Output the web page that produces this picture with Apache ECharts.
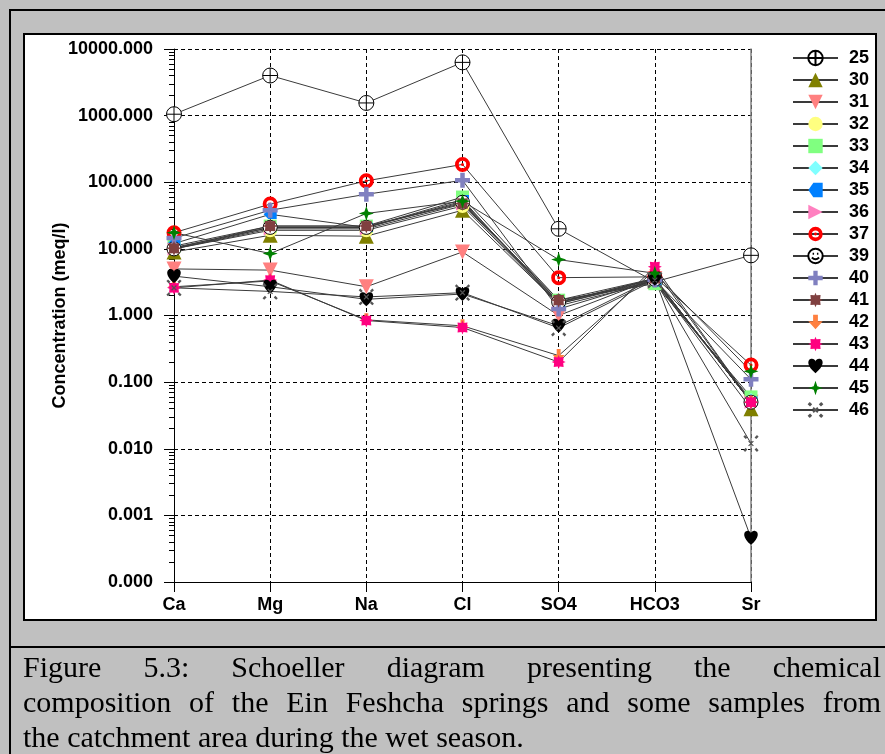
<!DOCTYPE html>
<html>
<head>
<meta charset="utf-8">
<script src="https://cdn.jsdelivr.net/npm/echarts@6/dist/echarts.min.js"></script>
<style>
  html, body { margin: 0; padding: 0; background: #c0c0c0; overflow: hidden; }
  #frame { position: absolute; left: 9px; top: 9px; width: 900px; height: 800px; border: 2px solid #000; }
  #divider { position: absolute; left: 9px; top: 646px; width: 900px; height: 2px; background: #000; }
  #panel { position: absolute; left: 23px; top: 33px; width: 850px; height: 584px; border: 2px solid #000; background: #fff; }
  #chart { position: absolute; left: 0; top: 0; width: 885px; height: 754px; }
  #caption { position: absolute; left: 23px; top: 649px; width: 858px; font-family: "Liberation Serif", "Times New Roman", serif; font-size: 30px; line-height: 35px; color: #000; }
  #caption div { white-space: nowrap; }
  #caption .j { text-align: justify; text-align-last: justify; white-space: normal; }
</style>
</head>
<body>
<div id="frame"></div>
<div id="divider"></div>
<div id="panel"></div>
<div id="chart"></div>
<div id="caption">
  <div class="j">Figure 5.3: Schoeller diagram presenting the chemical</div>
  <div class="j">composition of the Ein Feshcha springs and some samples from</div>
  <div>the catchment area during the wet season.</div>
</div>
<script>
// ions on the x axis
const ions = ["Ca", "Mg", "Na", "Cl", "SO4", "HCO3", "Sr"];

// concentrations (meq/l) per sample, same order as ions
const s25 = [1050, 4000, 1550, 6300, 20, 3.2, 8];
const s30 = [9.0, 16, 15.5, 38, 1.5, 3.3, 0.04];
const s31 = [5.0, 4.8, 2.7, 9.0, 1.0, 3.6, 0.05];
const s32 = [10, 19, 19, 44, 1.5, 3.5, 0.05];
const s33 = [11, 22, 22, 60, 1.7, 3.0, 0.06];
const s34 = [10.5, 21, 21, 52, 1.6, 3.3, 0.055];
const s35 = [12, 33, 21, 55, 1.4, 3.2, 0.052];
const s36 = [10, 20, 20, 47, 1.55, 3.6, 0.05];
const s37 = [17.5, 47, 105, 185, 3.7, 3.8, 0.18];
const s39 = [10, 21, 21, 50, 1.6, 3.5, 0.05];
const s40 = [14.5, 38, 66, 107, 1.25, 3.4, 0.11];
const s41 = [10.2, 22, 22, 48, 1.7, 3.6, 0.05];
const s42 = [2.7, 3.3, 0.86, 0.7, 0.25, 4.8, 0.05];
const s43 = [2.6, 3.4, 0.84, 0.66, 0.2, 5.4, 0.05];
const s44 = [3.9, 2.7, 1.75, 2.1, 0.7, 3.6, 0.00046];
const s45 = [17.5, 8.5, 34, 52, 6.9, 4.3, 0.145];
const s46 = [2.6, 2.3, 1.9, 2.2, 0.65, 3.4, 0.012];

const yMin = 0.0001;
const yMax = 10000;

// marker shapes
const P_CIRCLE_PLUS = "path://M0,10A10,10,0,1,1,20,10A10,10,0,1,1,0,10Z M10,0L10,20 M0,10L20,10";
const P_TAG = "path://M0,10L7,3L20,3L20,17L7,17Z";
const P_RING = "path://M0,10A10,10,0,1,1,20,10A10,10,0,1,1,0,10Z M5,10A5,5,0,1,0,15,10A5,5,0,1,0,5,10Z M8,10A2,2,0,1,1,12,10A2,2,0,1,1,8,10Z";
const P_SMILE = "path://M0,10A10,10,0,1,1,20,10A10,10,0,1,1,0,10Z M6,7L8,7 M12,7L14,7 M5,12Q10,17,15,12";
const P_PLUS = "path://M7,0H13V7H20V13H13V20H7V13H0V7H7Z";
const P_BURST = "path://M20,10L16.5,11.4L17.07,17.07L11.4,16.5L10,20L8.6,16.5L2.93,17.07L3.5,11.4L0,10L3.5,8.6L2.93,2.93L8.6,3.5L10,0L11.4,3.5L17.07,2.93L16.5,8.6Z";
const P_ARROW = "path://M7,0H13V9H19L10,20L1,9H7Z";
const P_HEART = "path://M10,20C0,12,0,4,5,3C8,2.5,10,5,10,6C10,5,12,2.5,15,3C20,4,20,12,10,20Z";
const P_STAR4 = "path://M10,0L12.5,7.5L20,10L12.5,12.5L10,20L7.5,12.5L0,10L7.5,7.5Z";
const P_DOTX = "path://M1,1L4,4 M2,0L5,3 M16,16L19,19 M15,17L18,20 M19,1L16,4 M18,0L15,3 M4,16L1,19 M5,17L2,20 M7,7L13,13 M13,7L7,13";

const lineColor = "#3a3a3a";

function mk(name, data, symbol, size, color, border, bw, rotate) {
  return {
    name: name,
    type: "line",
    data: data,
    symbol: symbol,
    symbolSize: size,
    symbolRotate: rotate || 0,
    symbolKeepAspect: true,
    showAllSymbol: true,
    lineStyle: { color: lineColor, width: 1 },
    itemStyle: { color: color, borderColor: border || color, borderWidth: bw || 0 },
    emphasis: { disabled: true },
  };
}

const series = [
  mk("25", s25, P_CIRCLE_PLUS, 15, "#ffffff", "#000000", 1),
  mk("30", s30, "triangle", 15, "#808000"),
  mk("31", s31, "triangle", 15, "#ff8080", null, 0, 180),
  mk("32", s32, "circle", 14, "#ffff80"),
  mk("33", s33, "rect", 13, "#80ff80"),
  mk("34", s34, "diamond", 13, "#80ffff"),
  mk("35", s35, P_TAG, 13, "#0080ff"),
  mk("36", s36, "triangle", 13, "#ff80c0", null, 0, -90),
  mk("37", s37, P_RING, 15, "#ff0000"),
  mk("39", s39, P_SMILE, 14, "#ffffff", "#000000", 1),
  mk("40", s40, P_PLUS, 15, "#8080c0"),
  mk("41", s41, P_BURST, 15, "#804040"),
  mk("42", s42, P_ARROW, 13, "#ff8040"),
  mk("43", s43, P_BURST, 14, "#ff0080"),
  mk("44", s44, P_HEART, 14, "#000000"),
  mk("45", s45, P_STAR4, 15, "#008000"),
  mk("46", s46, P_DOTX, 16, "rgba(0,0,0,0)", "#555555", 1.2),
];

const boldText = { fontFamily: "Liberation Sans, Arial, sans-serif", fontWeight: "bold", fontSize: 18, color: "#000" };

const chart = echarts.init(document.getElementById("chart"));
chart.setOption({
  animation: false,
  grid: { left: 174, right: 134, top: 49, bottom: 172 },
  legend: {
    orient: "vertical",
    left: 792,
    top: 49,
    padding: 0,
    itemWidth: 45,
    itemHeight: 18,
    itemGap: 4,
    textStyle: Object.assign({}, boldText, { lineHeight: 18, padding: [0, 0, 0, 6] }),
    data: series.map(function (s) { return s.name; }),
    selectedMode: false,
  },
  xAxis: {
    type: "category",
    data: ions,
    boundaryGap: false,
    axisLine: { lineStyle: { color: "#000", width: 1 } },
    axisTick: { show: true, length: 10, lineStyle: { color: "#000" } },
    axisLabel: Object.assign({}, boldText, { margin: 14 }),
    splitLine: { show: true, lineStyle: { color: "#000", type: [4, 3], width: 1 } },
  },
  yAxis: [
    {
      type: "log",
      logBase: 10,
      min: yMin,
      max: yMax,
      interval: 1,
      name: "Concentration (meq/l)",
      nameLocation: "middle",
      nameGap: 105,
      nameMoveOverlap: false,
      nameTextStyle: boldText,
      axisLine: { show: true, lineStyle: { color: "#000", width: 1 } },
      axisTick: { show: true, length: 10, lineStyle: { color: "#000" } },
      minorTick: { show: true, splitNumber: 9, length: 5, lineStyle: { color: "#000" } },
      axisLabel: Object.assign({}, boldText, {
        margin: 21,
        formatter: function (v) { return Number(v).toFixed(3); },
      }),
      splitLine: { show: true, lineStyle: { color: "#000", type: [4, 3], width: 1 } },
    },
    {
      type: "log",
      logBase: 10,
      min: yMin,
      max: yMax,
      interval: 1,
      position: "right",
      axisLine: { show: true, lineStyle: { color: "#808080", width: 1.5 } },
      axisTick: { show: false },
      axisLabel: { show: false },
      splitLine: { show: false },
    },
  ],
  series: series,
});
</script>
</body>
</html>
